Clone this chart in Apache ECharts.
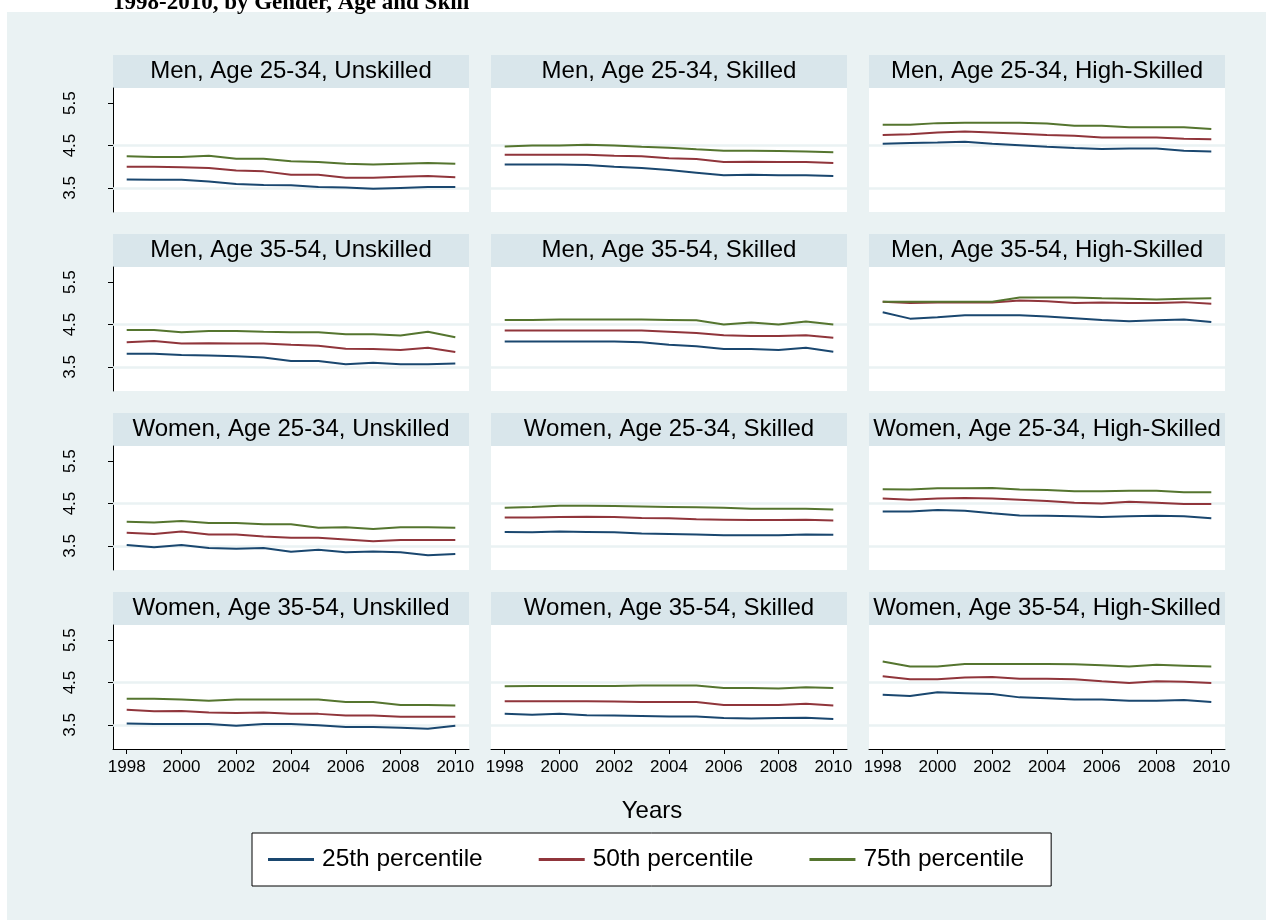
<!DOCTYPE html>
<html><head><meta charset="utf-8">
<script src="https://cdn.jsdelivr.net/npm/echarts@6/dist/echarts.min.js"></script>
<style>html,body{margin:0;padding:0;background:#fff}#c{width:1266px;height:920px}</style>
</head><body><div id="c"></div><script>
const years = ['1998','1999','2000','2001','2002','2003','2004','2005','2006','2007','2008','2009','2010'];
const panelTitles = [
  'Men, Age 25-34, Unskilled','Men, Age 25-34, Skilled','Men, Age 25-34, High-Skilled',
  'Men, Age 35-54, Unskilled','Men, Age 35-54, Skilled','Men, Age 35-54, High-Skilled',
  'Women, Age 25-34, Unskilled','Women, Age 25-34, Skilled','Women, Age 25-34, High-Skilled',
  'Women, Age 35-54, Unskilled','Women, Age 35-54, Skilled','Women, Age 35-54, High-Skilled'
];
const seriesNames = ['25th percentile','50th percentile','75th percentile'];
const yTicks = [3.5, 4.5, 5.5];
const gridValues = [3.5, 4.5];
const yMin = 2.93, yMax = 5.86;

const p25 = [
  [3.70,3.69,3.69,3.65,3.59,3.57,3.56,3.52,3.51,3.48,3.50,3.52,3.52],
  [4.05,4.05,4.05,4.04,4.00,3.97,3.92,3.86,3.80,3.81,3.80,3.80,3.78],
  [4.54,4.56,4.57,4.59,4.54,4.51,4.47,4.44,4.42,4.43,4.43,4.38,4.36],
  [3.81,3.81,3.78,3.77,3.75,3.72,3.64,3.64,3.56,3.60,3.56,3.56,3.58],
  [4.10,4.10,4.10,4.10,4.10,4.08,4.02,3.99,3.92,3.92,3.90,3.95,3.86],
  [4.79,4.64,4.67,4.72,4.72,4.72,4.69,4.65,4.61,4.58,4.60,4.62,4.56],
  [3.52,3.47,3.52,3.45,3.43,3.45,3.36,3.41,3.35,3.37,3.35,3.28,3.31],
  [3.83,3.82,3.84,3.83,3.82,3.79,3.78,3.77,3.75,3.75,3.75,3.77,3.76],
  [4.31,4.31,4.35,4.33,4.27,4.22,4.21,4.20,4.18,4.20,4.21,4.20,4.15],
  [3.53,3.52,3.52,3.52,3.48,3.52,3.52,3.49,3.45,3.45,3.43,3.41,3.48],
  [3.76,3.74,3.76,3.73,3.72,3.71,3.70,3.70,3.66,3.65,3.66,3.67,3.64],
  [4.21,4.18,4.27,4.25,4.23,4.15,4.13,4.10,4.10,4.07,4.07,4.09,4.04]
];
const p50 = [
  [4.00,4.00,3.99,3.97,3.91,3.89,3.81,3.81,3.74,3.74,3.76,3.78,3.75],
  [4.28,4.28,4.28,4.28,4.26,4.25,4.20,4.18,4.11,4.12,4.11,4.11,4.09],
  [4.75,4.77,4.81,4.83,4.81,4.78,4.75,4.73,4.69,4.69,4.69,4.66,4.65],
  [4.08,4.11,4.05,4.06,4.05,4.05,4.02,4.00,3.93,3.92,3.90,3.95,3.85],
  [4.36,4.36,4.36,4.36,4.36,4.36,4.33,4.30,4.25,4.23,4.23,4.25,4.19],
  [5.04,5.01,5.02,5.02,5.02,5.07,5.05,5.01,5.02,5.01,5.01,5.03,4.99],
  [3.81,3.78,3.84,3.77,3.77,3.72,3.69,3.69,3.65,3.61,3.64,3.64,3.64],
  [4.17,4.17,4.18,4.19,4.18,4.16,4.15,4.13,4.12,4.11,4.11,4.12,4.10],
  [4.62,4.59,4.62,4.63,4.62,4.59,4.56,4.52,4.50,4.54,4.52,4.49,4.49],
  [3.86,3.82,3.83,3.79,3.78,3.79,3.76,3.76,3.72,3.72,3.69,3.69,3.69],
  [4.06,4.06,4.06,4.06,4.05,4.04,4.04,4.04,3.97,3.97,3.97,4.00,3.96],
  [4.65,4.58,4.58,4.62,4.63,4.59,4.59,4.58,4.53,4.49,4.53,4.52,4.49]
];
const p75 = [
  [4.25,4.23,4.23,4.26,4.19,4.19,4.13,4.11,4.07,4.05,4.07,4.09,4.07],
  [4.48,4.50,4.50,4.52,4.50,4.47,4.45,4.41,4.38,4.38,4.37,4.36,4.34],
  [4.99,4.99,5.03,5.04,5.04,5.04,5.02,4.97,4.97,4.93,4.93,4.93,4.89],
  [4.37,4.37,4.32,4.35,4.35,4.33,4.32,4.32,4.27,4.27,4.24,4.33,4.20],
  [4.61,4.61,4.62,4.62,4.62,4.62,4.61,4.60,4.50,4.55,4.50,4.57,4.50],
  [5.04,5.04,5.04,5.04,5.04,5.14,5.14,5.14,5.12,5.11,5.09,5.11,5.12],
  [4.07,4.05,4.09,4.04,4.04,4.01,4.01,3.93,3.94,3.90,3.94,3.94,3.93],
  [4.40,4.42,4.45,4.45,4.44,4.43,4.42,4.41,4.40,4.38,4.38,4.38,4.36],
  [4.84,4.83,4.86,4.86,4.87,4.83,4.82,4.79,4.79,4.80,4.80,4.77,4.77],
  [4.12,4.12,4.10,4.07,4.10,4.10,4.10,4.10,4.04,4.04,3.97,3.97,3.96],
  [4.41,4.42,4.42,4.42,4.42,4.43,4.43,4.43,4.37,4.37,4.36,4.39,4.37],
  [5.00,4.88,4.88,4.94,4.94,4.94,4.94,4.93,4.91,4.88,4.92,4.90,4.88]
];
const colors = ['#1a476f', '#90353b', '#55752f'];

const FONT = "'Liberation Sans', Arial, Helvetica, sans-serif";
const colLeft = [113, 491, 869];
const colW = 356;
const rowTop = [55, 234, 413, 592];
const headH = 33;
const plotH = 124;

const grids = [], xAxes = [], yAxes = [], series = [], graphics = [];
graphics.push({type:'rect', shape:{x:0,y:0,width:1266,height:12}, style:{fill:'#fff'}, silent:true});
graphics.push({type:'rect', shape:{x:0,y:0,width:7,height:920}, style:{fill:'#fff'}, silent:true});
graphics.push({type:'text', x:113, y:3, silent:true,
  style:{text:'1998-2010, by Gender, Age and Skill', font:"bold 23px 'Liberation Serif', 'Times New Roman', serif",
    fill:'#000', textAlign:'left', textVerticalAlign:'middle', verticalAlign:'middle'}});

for (let i = 0; i < 12; i++) {
  const r = Math.floor(i / 3), c = i % 3;
  const isLeft = c === 0, isBottom = r === 3;
  const left = colLeft[c], top = rowTop[r] + headH;
  grids.push({left:left, top:top, width:colW, height:plotH, show:true, backgroundColor:'#fff', borderWidth:0, containLabel:false, outerBoundsMode:'none'});
  graphics.push({type:'rect', shape:{x:left, y:rowTop[r], width:colW, height:headH}, style:{fill:'#d9e6eb'}, silent:true});
  graphics.push({type:'text', x:left + colW/2, y:rowTop[r] + headH/2, silent:true,
    style:{text:panelTitles[i], font:'24px ' + FONT, fill:'#000', textAlign:'center', textVerticalAlign:'middle', verticalAlign:'middle'}});
  xAxes.push({type:'category', gridIndex:i, data:years, boundaryGap:true,
    axisLine:{show:isBottom, onZero:false, lineStyle:{color:'#000', width:1}},
    axisTick:{show:isBottom, interval:1, alignWithLabel:true, length:5, lineStyle:{color:'#000', width:1}},
    axisLabel:{show:isBottom, interval:1, fontSize:17, color:'#000', fontFamily:FONT, margin:10},
    splitLine:{show:false}});
  yAxes.push({type:'value', gridIndex:i, min:yMin, max:yMax,
    axisLine:{show:isLeft, onZero:false, lineStyle:{color:'#000', width:1}},
    axisTick:{show:isLeft, length:5, customValues:yTicks, lineStyle:{color:'#000', width:1}},
    axisLabel:{show:isLeft, customValues:yTicks, rotate:90, margin:34, fontSize:17, color:'#000', fontFamily:FONT},
    splitLine:{show:false}});
  series.push({type:'line', name:'grid' + i, xAxisIndex:i, yAxisIndex:i, data:[], z:1, silent:true,
    markLine:{symbol:'none', silent:true, animation:false, z:1, label:{show:false},
      lineStyle:{color:'#eaf2f3', width:2.5, type:'solid'},
      data:gridValues.map(v => ({yAxis:v}))}});
  [p25, p50, p75].forEach((arr, k) => {
    series.push({type:'line', name:seriesNames[k], xAxisIndex:i, yAxisIndex:i, data:arr[i],
      symbol:'none', smooth:false, z:10,
      lineStyle:{color:colors[k], width:2}, itemStyle:{color:colors[k]}});
  });
}
graphics.push({type:'text', x:652, y:811, silent:true,
  style:{text:'Years', font:'24px ' + FONT, fill:'#000', textAlign:'center', textVerticalAlign:'middle', verticalAlign:'middle'}});

const chart = echarts.init(document.getElementById('c'), null, {renderer:'canvas'});
chart.setOption({
  animation:false,
  backgroundColor:'#eaf2f3',
  grid:grids, xAxis:xAxes, yAxis:yAxes, series:series,
  graphic:graphics,
  legend:{data:seriesNames, left:252, top:833, orient:'horizontal',
    padding:[14, 27, 14, 16], itemGap:56, itemWidth:46, itemHeight:3, icon:'rect',
    backgroundColor:'#fff', borderColor:'#000', borderWidth:1, borderRadius:0,
    textStyle:{fontSize:24.5, color:'#000', fontFamily:FONT, padding:[0,0,0,3]},
    selectedMode:false},
  tooltip:{show:false}
});
</script></body></html>
